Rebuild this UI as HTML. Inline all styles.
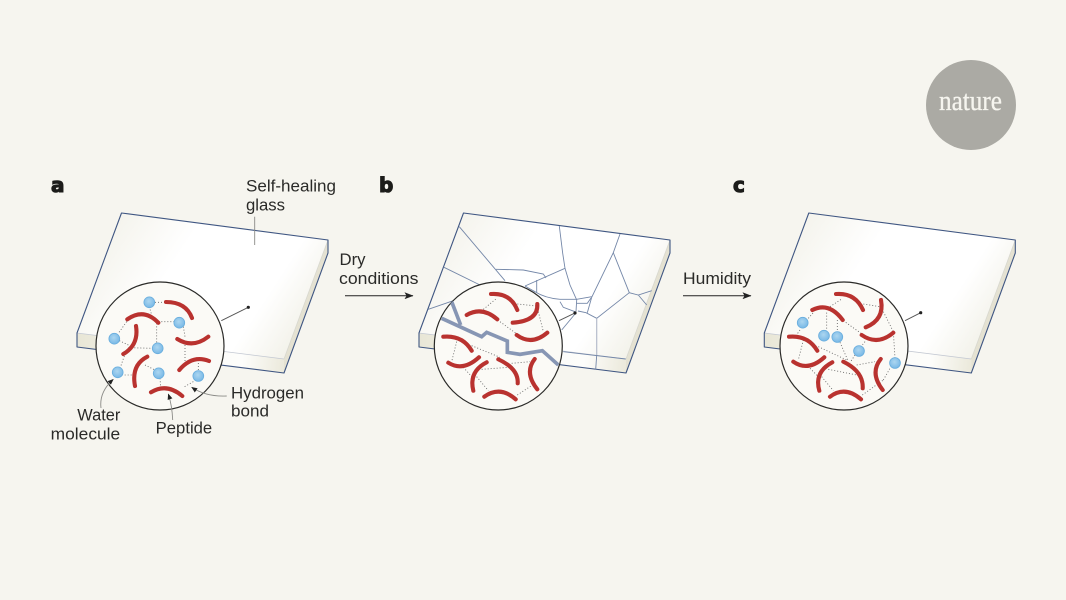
<!DOCTYPE html>
<html>
<head>
<meta charset="utf-8">
<style>
html,body{margin:0;padding:0;background:#f6f5ef;}
svg{display:block;}
text{font-family:"Liberation Sans",sans-serif;font-size:16.5px;fill:#2a2a28;}
.lab{font-family:"DejaVu Sans",sans-serif;font-weight:bold;font-size:20px;fill:#1c1c1a;stroke:#1c1c1a;stroke-width:1.1;}
.r{fill:none;stroke:#b9322f;stroke-width:4.1;stroke-linecap:round;}
.d{fill:none;stroke:#666;stroke-width:2.6;stroke-dasharray:3 6;}
.c{fill:none;stroke:#7487a8;stroke-width:.9;}
.w{fill:url(#blue);stroke:#69aede;stroke-width:.8;}
.l{fill:none;stroke:#8a8a86;stroke-width:.9;}
.k{fill:none;stroke:#555;stroke-width:.9;}
</style>
</head>
<body>
<svg width="1066" height="600" viewBox="0 0 1066 600" xmlns="http://www.w3.org/2000/svg">
<defs>
<linearGradient id="top" gradientUnits="userSpaceOnUse" x1="90" y1="240" x2="290" y2="370">
<stop offset="0" stop-color="#f3f2ea"/><stop offset=".35" stop-color="#ffffff"/><stop offset=".75" stop-color="#ffffff"/><stop offset="1" stop-color="#f0efe5"/>
</linearGradient>
<linearGradient id="front" gradientUnits="userSpaceOnUse" x1="77" y1="340" x2="284" y2="366">
<stop offset="0" stop-color="#e8e6d6"/><stop offset=".5" stop-color="#fbfbf7"/><stop offset=".8" stop-color="#fdfdfb"/><stop offset="1" stop-color="#ebe9db"/>
</linearGradient>
<radialGradient id="blue" cx=".45" cy=".4" r=".6">
<stop offset="0" stop-color="#acd6f0"/><stop offset="1" stop-color="#78b8e6"/>
</radialGradient>
<marker id="ah" markerWidth="9" markerHeight="7" refX="8.5" refY="3.5" orient="auto" markerUnits="userSpaceOnUse">
<path d="M0 0L9 3.5L0 7L2 3.5Z" fill="#222"/>
</marker>
<marker id="sh" markerWidth="6" markerHeight="5" refX="5.5" refY="2.5" orient="auto" markerUnits="userSpaceOnUse">
<path d="M0 0L6 2.5L0 5Z" fill="#222"/>
</marker>
<g id="slab">
<polygon points="77,333 284,359 284,373 77,347" fill="url(#front)"/>
<polygon points="284,359 328,240 328,253 284,373" fill="#e5e2d2"/>
<polygon points="121.5,213 328,240 284,359 77,333" fill="url(#top)"/>
<path d="M77,333L284,359" fill="none" stroke="#c3c8d2" stroke-width=".8"/>
<path d="M284,359L328,240" fill="none" stroke="#d8d8d0" stroke-width=".8"/>
<path d="M77,333L121.5,213L328,240L328,253L284,373L77,347Z" fill="none" stroke="#3f5682" stroke-width="1.1" stroke-linejoin="round"/>
</g>
<clipPath id="cb"><circle cx="498.3" cy="346" r="64"/></clipPath>
</defs>

<rect width="1066" height="600" fill="#f6f5ef"/>

<!-- logo -->
<circle cx="971" cy="105" r="45" fill="#abaaa4"/>
<text x="939" y="110" textLength="63" lengthAdjust="spacingAndGlyphs" style="font-family:'Liberation Serif',serif;font-size:28px;fill:#f6f5ef;stroke:#f6f5ef;stroke-width:.3">nature</text>

<!-- labels -->
<text class="lab" x="51" y="192">a</text>
<text class="lab" x="379" y="192">b</text>
<text class="lab" x="733" y="192">c</text>

<!-- PANEL A -->
<use href="#slab"/>
<path class="l" d="M254.7,216.7V245"/>
<path class="k" d="M221.3,320.7L248.3,307.3"/>
<circle cx="248.3" cy="307.3" r="1.6" fill="#222"/>
<circle cx="160" cy="346" r="64" fill="#fbfaf6" stroke="#2a2a28" stroke-width="1.2"/>
<g transform="translate(90 280) scale(.33333)">
<path class="d" d="M195,67L228,67M178,80L185,105M205,125L255,125M200,130L200,190M280,140L285,170M285,195L285,255M110,125L85,160M88,182L115,195M115,203L190,205M103,228L90,265M95,285L125,285M165,255L195,270M210,295L212,320M325,270L325,245M310,305L280,322"/>
</g>
<path class="r" d="M166,302Q186,302 192,318"/>
<path class="r" d="M127.3,319.3Q144,307.6 158.3,322.7"/>
<path class="r" d="M136,326Q139,345 123.3,354"/>
<path class="r" d="M177.3,339Q193,348.8 208.3,336.7"/>
<path class="r" d="M179.3,370Q192.4,354.5 209,361"/>
<path class="r" d="M147.3,356.7Q131,365 135,386"/>
<path class="r" d="M151,392.3Q166.7,382.6 182.3,396"/>
<circle class="w" cx="149.3" cy="302.3" r="5.4"/>
<circle class="w" cx="179.3" cy="322.7" r="5.4"/>
<circle class="w" cx="114.3" cy="338.7" r="5.4"/>
<circle class="w" cx="157.7" cy="348.3" r="5.4"/>
<circle class="w" cx="117.7" cy="372.3" r="5.4"/>
<circle class="w" cx="158.7" cy="373.3" r="5.4"/>
<circle class="w" cx="198.3" cy="376" r="5.4"/>
<path class="l" d="M101,408Q99,392 113.3,379.3" marker-end="url(#sh)"/>
<path class="l" d="M172.7,420Q172,405 168.3,394" marker-end="url(#sh)"/>
<path class="l" d="M226.7,396Q206,397 191.7,387.3" marker-end="url(#sh)"/>
<text x="246" y="191.7" textLength="90" lengthAdjust="spacingAndGlyphs">Self-healing</text>
<text x="246" y="210.5" textLength="39" lengthAdjust="spacingAndGlyphs">glass</text>
<text x="77.3" y="420.7" textLength="43" lengthAdjust="spacingAndGlyphs">Water</text>
<text x="50.7" y="439.3" textLength="69.5" lengthAdjust="spacingAndGlyphs">molecule</text>
<text x="155.7" y="433.3" textLength="56.5" lengthAdjust="spacingAndGlyphs">Peptide</text>
<text x="231" y="398.3" textLength="73" lengthAdjust="spacingAndGlyphs">Hydrogen</text>
<text x="231" y="416.7" textLength="38" lengthAdjust="spacingAndGlyphs">bond</text>

<!-- arrow 1 -->
<text x="339.5" y="265" textLength="26" lengthAdjust="spacingAndGlyphs">Dry</text>
<text x="339" y="284" textLength="79.5" lengthAdjust="spacingAndGlyphs">conditions</text>
<path d="M345,295.7H413" stroke="#222" stroke-width="1" fill="none" marker-end="url(#ah)"/>

<!-- PANEL B -->
<use href="#slab" x="342"/>
<g class="c">
<path class="c" d="M459.3,226.7L505,280.7"/>
<path class="c" d="M444,267.3L480,285"/>
<path class="c" d="M428.3,309.3L453.3,300.7"/>
<path class="c" d="M496,269.3L523.3,270L543.3,274L546,278"/>
<path class="c" d="M565,268.3L525,286"/>
<path class="c" d="M559.3,226L562.7,253.3L565,268.3L570,285L576.7,300L576,311.7"/>
<path class="c" d="M620,234L613.3,252.7L591.7,297.3L587.3,312.7"/>
<path class="c" d="M613.3,252.7L629.3,292.7L638.3,295L651.7,290.7M638.3,295L646.7,305"/>
<path class="c" d="M629.3,292.7L596.7,318.3L586,312.7L578,311"/>
<path d="M596.7,318.3V355" fill="none" stroke="#b5bccb" stroke-width="1.2"/>
<path class="c" d="M596.7,355L595.7,369.3"/>
<path class="c" d="M563.3,351.7L625.7,359"/>
<path class="c" d="M536.7,280V292.3"/>
<path class="c" d="M525,286Q530,289 535,291.7Q545,298 560,299.3L576.7,299.3L591.7,296.7"/>
<path class="c" d="M560,301.7L563.3,307.3L575,311.7"/>
<path class="c" d="M576.7,303.3L587.3,303.3L591,298"/>
<path class="c" d="M575,314L561.7,330"/>
</g>
<path class="k" d="M559,320.7L574.3,313.3"/>
<circle cx="575" cy="313" r="1.6" fill="#222"/>
<circle cx="498.3" cy="346" r="64" fill="#fbfaf6" stroke="#2a2a28" stroke-width="1.2"/>
<g clip-path="url(#cb)">
<g transform="translate(430 280) scale(.33333)">
<path d="M35,115L155,170L170,157L232,183L232,217L270,223L337,212L385,255" fill="none" stroke="#8796b4" stroke-width="11"/>
<path d="M65,65L92,135" fill="none" stroke="#8796b4" stroke-width="11"/>
</g>
</g>
<g transform="translate(430 280) scale(.33333)">
<path class="d" d="M160,88L200,55M262,72L320,78M325,95L340,155M203,120L258,160M125,197L210,232M80,185L65,245M100,262L130,295M155,268L235,262M245,250L300,245M140,290L175,332M262,345L303,318"/>
</g>
<path class="r" d="M491,294Q510.4,292.6 517.3,310"/>
<path class="r" d="M466.7,315Q482,306 497.3,319.3"/>
<path class="r" d="M537.3,304Q538.4,321 512.7,322.7"/>
<path class="r" d="M516.7,335Q531.7,346 547.3,332.7"/>
<path class="r" d="M443.3,336.7Q462.5,335 471.7,350.7"/>
<path class="r" d="M448.3,362.7Q463,372 479,357.3"/>
<path class="r" d="M498.3,359.3Q518.6,368.7 517.7,383.3"/>
<path class="r" d="M486.7,362.3Q468.6,371.5 473.3,390.7"/>
<path class="r" d="M534.7,359Q524,372.6 537.3,389.3"/>
<path class="r" d="M484.3,396.7Q500,385.4 515.7,399.3"/>

<!-- arrow 2 -->
<text x="683" y="284" textLength="68" lengthAdjust="spacingAndGlyphs">Humidity</text>
<path d="M683,295.7H751" stroke="#222" stroke-width="1" fill="none" marker-end="url(#ah)"/>

<!-- PANEL C -->
<use href="#slab" x="687.3"/>
<path class="k" d="M905,320.7L920.7,312.7"/>
<circle cx="920.7" cy="312.7" r="1.6" fill="#222"/>
<circle cx="844" cy="346" r="64" fill="#fbfaf6" stroke="#2a2a28" stroke-width="1.2"/>
<g transform="translate(775 280) scale(.33333)">
<path class="d" d="M165,80L200,57M265,72L315,80M325,95L355,155L360,235M100,115L115,98M155,98L155,150M187,120L187,155M205,122L258,160M68,160L75,150M85,180L70,240M130,200L215,240M195,187L218,240M270,185L262,195M240,225L225,248M245,255L300,245M105,265L130,290M160,268L245,285M140,290L175,332M262,345L325,300M325,300L345,265"/>
</g>
<path class="r" d="M836,294Q855.4,292.6 863,310"/>
<path class="r" d="M812.3,310Q829,301.6 842.7,320"/>
<path class="r" d="M881,300Q884.6,319.7 865.7,327.3"/>
<path class="r" d="M861.7,335Q877.5,346 893.3,332.7"/>
<path class="r" d="M789,336.7Q808,335 817.3,350.7"/>
<path class="r" d="M793.3,361.7Q808,372 824.3,357.3"/>
<path class="r" d="M843.3,361.7Q863.6,371.6 862.7,388.3"/>
<path class="r" d="M832.3,362.3Q814,372 819.3,390.7"/>
<path class="r" d="M880.7,359Q869.5,373 882.7,390"/>
<path class="r" d="M830,396.7Q845,385.4 861,399.3"/>
<circle class="w" cx="802.7" cy="322.7" r="5.4"/>
<circle class="w" cx="824" cy="335.7" r="5.4"/>
<circle class="w" cx="837.3" cy="337" r="5.4"/>
<circle class="w" cx="859" cy="351" r="5.4"/>
<circle class="w" cx="895" cy="363" r="5.4"/>
</svg>
</body>
</html>
